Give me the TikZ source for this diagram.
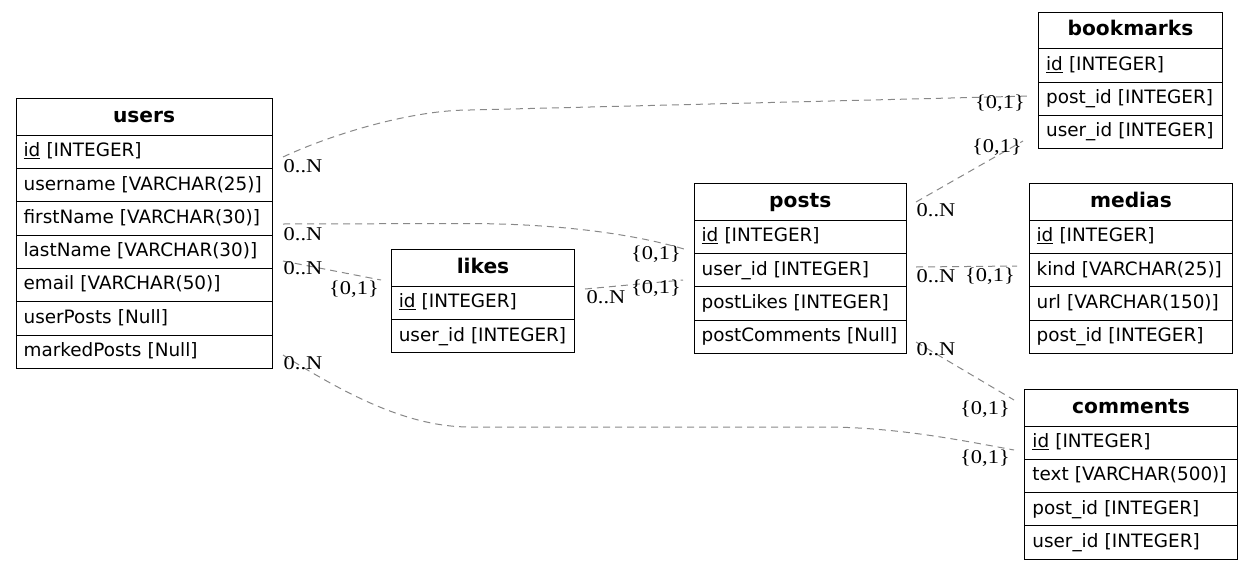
\documentclass[tikz,border=0pt]{standalone}
\usepackage{fontspec}
\setmainfont{DejaVu Sans}
\newfontfamily\lblfamily[FakeStretch=1.15]{Liberation Serif}
\usetikzlibrary{calc}
\definecolor{edgegray}{HTML}{888888}
\newcommand\rowfont{\fontsize{18.4}{22}\selectfont}
\newcommand\hdrfont{\fontsize{20.2}{24}\selectfont\bfseries}
\newcommand\lblfont{\lblfamily\fontsize{19.5}{22}\selectfont}
\newcommand\ertab[6]{%
  \node[hdrbox, minimum width=#4] (#1) at (#2,#3) {#5};
  \pgfmathsetmacro\tabtw{#4-15.2}%
  \foreach \rowtxt [count=\ri] in {#6} {%
    \node[rowbox, text width=\tabtw pt] (#1-\ri) at (#2,{#3+36.5+(\ri-1)*33.3}) {\rowtxt};
  }%
}
\tikzset{
  hdrbox/.style={draw, line width=1pt, anchor=north west, minimum height=36.5, inner sep=0pt, font=\hdrfont, text height=14.5pt, text depth=4pt},
  rowbox/.style={draw, line width=1pt, anchor=north west, minimum height=33.3, inner xsep=7.6pt, inner ysep=0pt, align=left, font=\rowfont, text height=13.5pt, text depth=4pt},
  rel/.style={draw=edgegray, line width=1pt, dash pattern=on 7pt off 5pt},
  card/.style={inner sep=0pt, font=\lblfont, anchor=center},
}
\begin{document}
\begin{tikzpicture}[x=1pt,y=-1pt]
\useasboundingbox (0,0) rectangle (1252,570);
\ertab{users}{15.5}{98.3}{256.2}{users}{{\underline{id} [INTEGER]},{username [VARCHAR(25)]},{firstName [VARCHAR(30)]},{lastName [VARCHAR(30)]},{email [VARCHAR(50)]},{userPosts [Null]},{markedPosts [Null]}}
\ertab{likes}{390.7}{249.3}{183.6}{likes}{{\underline{id} [INTEGER]},{user\_id [INTEGER]}}
\ertab{posts}{693.5}{183.3}{212.5}{posts}{{\underline{id} [INTEGER]},{user\_id [INTEGER]},{postLikes [INTEGER]},{postComments [Null]}}
\ertab{bookmarks}{1038}{11.7}{184}{bookmarks}{{\underline{id} [INTEGER]},{post\_id [INTEGER]},{user\_id [INTEGER]}}
\ertab{medias}{1028.5}{183.3}{203.8}{medias}{{\underline{id} [INTEGER]},{kind [VARCHAR(25)]},{url [VARCHAR(150)]},{post\_id [INTEGER]}}
\ertab{comments}{1024.3}{389}{212.4}{comments}{{\underline{id} [INTEGER]},{text [VARCHAR(500)]},{post\_id [INTEGER]},{user\_id [INTEGER]}}

% connector end points
\coordinate (e1s) at (283,157);  \coordinate (e1t) at (1031,96);
\coordinate (e2s) at (283,224);  \coordinate (e2t) at (684,249);
\coordinate (e3s) at (283,261);  \coordinate (e3t) at (381,280);
\coordinate (e4s) at (585,289);  \coordinate (e4t) at (683,280);
\coordinate (e5s) at (283,355);  \coordinate (e5t) at (1014,450);
\coordinate (e6s) at (916,202);  \coordinate (e6t) at (1023,141);
\coordinate (e7s) at (916,267);  \coordinate (e7t) at (1017,266);
\coordinate (e8s) at (916,342);  \coordinate (e8t) at (1014,400);

\draw[rel] (e1s) .. controls (330,135) and (410,110) .. (470,110) -- (e1t);
\draw[rel] (e2s) -- (470,223.5) .. controls (570,224) and (640,236) .. (e2t);
\draw[rel] (e3s) -- (e3t);
\draw[rel] (e4s) -- (e4t);
\draw[rel] (e5s) .. controls (350,397) and (410,427) .. (470,427) -- (830,427) .. controls (900,428) and (960,440) .. (e5t);
\draw[rel] (e6s) -- (e6t);
\draw[rel] (e7s) -- (e7t);
\draw[rel] (e8s) -- (e8t);

% cardinality labels
\node[card] (l1a) at (303,166) {0..N};
\node[card] (l1b) at (1000,103) {\{0,1\}};
\node[card] (l2a) at (303,234) {0..N};
\node[card] (l2b) at (656,254) {\{0,1\}};
\node[card] (l3a) at (303,268) {0..N};
\node[card] (l3b) at (354,289) {\{0,1\}};
\node[card] (l4a) at (606,297) {0..N};
\node[card] (l4b) at (656,288) {\{0,1\}};
\node[card] (l5a) at (303,363) {0..N};
\node[card] (l5b) at (985,458) {\{0,1\}};
\node[card] (l6a) at (936,210) {0..N};
\node[card] (l6b) at (997,147) {\{0,1\}};
\node[card] (l7a) at (936,276) {0..N};
\node[card] (l7b) at (990,276) {\{0,1\}};
\node[card] (l8a) at (936,349) {0..N};
\node[card] (l8b) at (985,409) {\{0,1\}};
\end{tikzpicture}
\end{document}
